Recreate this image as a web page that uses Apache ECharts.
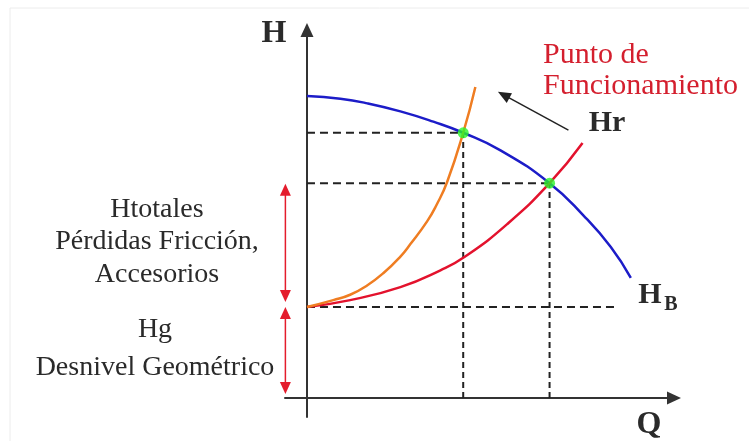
<!DOCTYPE html>
<html>
<head>
<meta charset="utf-8">
<script src="https://cdn.jsdelivr.net/npm/echarts@6/dist/echarts.min.js"></script>
<style>
  html, body { margin: 0; padding: 0; background: #fff; }
  #main { width: 749px; height: 441px; }
</style>
</head>
<body>
<div id="main"></div>
<script>
// curva de la bomba H_B (Q, H)
var pumpCurve = [[0, 7.9], [0.85, 7.83], [1.54, 7.71], [2.38, 7.5], [3.22, 7.23], [3.98, 6.94], [4.93, 6.48], [6.18, 5.62], [7.04, 4.78], [7.74, 3.95], [8.25, 3.14]];
// curva del sistema Hr (roja)
var systemCurve = [[0, 2.38], [1.1, 2.56], [2.38, 2.9], [3.4, 3.34], [4.03, 3.7], [5.1, 4.55], [6.18, 5.62], [7.02, 6.67]];
// curva del sistema con más pérdidas (naranja)
var systemCurve2 = [[0, 2.38], [0.67, 2.56], [1.1, 2.7], [1.54, 2.95], [1.95, 3.27], [2.38, 3.7], [2.63, 4.02], [3.06, 4.62], [3.3, 5.05], [3.57, 5.65], [3.98, 6.94], [4.29, 8.14]];
// puntos de funcionamiento
var operatingPoints = [[3.98, 6.94], [6.18, 5.62]];
// altura geométrica Hg
var staticHead = 2.38;
var staticLineEnd = 7.86;
// flechas rojas (x, extremos)
var arrowX = -0.55;
var frictionArrow = [5.45, 2.67];
var geometricArrow = [2.22, 0.26];
// flecha negra que señala el punto
var pointerArrow = [[6.66, 7.01], [5.01, 7.93]];

var myChart = echarts.init(document.getElementById('main'));

var serif = '"Liberation Serif", "DejaVu Serif", serif';
var textColor = '#2a2a2a';

// líneas discontinuas hasta los ejes
var dashSeries = [];
operatingPoints.forEach(function (p) {
  dashSeries.push({
    type: 'line', symbol: 'none', silent: true, z: 1,
    data: [[0, p[1]], [p[0], p[1]]],
    lineStyle: { color: '#222', width: 2, type: [8, 5] }
  });
  dashSeries.push({
    type: 'line', symbol: 'none', silent: true, z: 1,
    data: [[p[0], 0], [p[0], p[1]]],
    lineStyle: { color: '#222', width: 2, type: [6, 4] }
  });
});
dashSeries.push({
  type: 'line', symbol: 'none', silent: true, z: 1,
  data: [[0, staticHead], [staticLineEnd, staticHead]],
  lineStyle: { color: '#222', width: 2, type: [8, 5] },
  markLine: {
    silent: true,
    symbol: ['none', 'triangle'],
    symbolSize: [11, 13],
    label: { show: false },
    lineStyle: { color: '#222', width: 1.5, type: 'solid' },
    data: [[{ coord: pointerArrow[0] }, { coord: pointerArrow[1] }]]
  }
});

function redArrow(ends) {
  return {
    type: 'line', clip: false, silent: true, z: 3,
    symbol: 'triangle', symbolSize: [11, 12],
    data: [
      { value: [arrowX, ends[0]], symbolRotate: 0 },
      { value: [arrowX, ends[1]], symbolRotate: 180 }
    ],
    itemStyle: { color: '#e41c2c' },
    lineStyle: { color: '#e41c2c', width: 1.5 }
  };
}

function axisCommon() {
  return {
    type: 'value',
    axisLine: {
      show: true, onZero: true,
      symbol: ['none', 'triangle'], symbolSize: [13, 14],
      lineStyle: { color: '#333', width: 2 }
    },
    axisTick: { show: false },
    axisLabel: { show: false },
    splitLine: { show: false }
  };
}

var xAxis = axisCommon();
xAxis.min = -0.56;
xAxis.max = 9.35;
var yAxis = axisCommon();
yAxis.min = -0.5;
yAxis.max = 9.63;

function label(text, x, y, size, opts) {
  opts = opts || {};
  return {
    type: 'text', x: x, y: y, z: 10, silent: true,
    style: {
      text: text,
      font: (opts.bold ? 'bold ' : '') + size + 'px ' + serif,
      fill: opts.color || textColor,
      align: opts.align || 'center',
      verticalAlign: 'middle'
    }
  };
}

var option = {
  animation: false,
  backgroundColor: '#fff',
  grid: { left: 285, top: 30, width: 389, height: 387 },
  xAxis: xAxis,
  yAxis: yAxis,
  graphic: [
    { type: 'line', silent: true, shape: { x1: 10, y1: 8, x2: 749, y2: 8 }, style: { stroke: '#ececec', lineWidth: 1 } },
    { type: 'line', silent: true, shape: { x1: 10, y1: 8, x2: 10, y2: 441 }, style: { stroke: '#ececec', lineWidth: 1 } },
    label('H', 274, 34, 32, { bold: true }),
    label('Q', 649, 425, 32, { bold: true }),
    label('Hr', 607, 123, 30, { bold: true }),
    label('H', 650, 295, 30, { bold: true }),
    label('B', 671, 305, 20, { bold: true }),
    label('Punto de', 543, 55, 30, { align: 'left', color: '#d41f2e' }),
    label('Funcionamiento', 543, 86, 30, { align: 'left', color: '#d41f2e' }),
    label('Htotales', 157, 210, 28),
    label('Pérdidas Fricción,', 157, 242, 28),
    label('Accesorios', 157, 275, 28),
    label('Hg', 155, 330, 28),
    label('Desnivel Geométrico', 155, 368, 28)
  ],
  series: dashSeries.concat([
    redArrow(frictionArrow),
    redArrow(geometricArrow),
    {
      name: 'H_B', type: 'line', smooth: 0.5, symbol: 'none', z: 2,
      data: pumpCurve,
      lineStyle: { color: '#1c1cc8', width: 2.5 }
    },
    {
      name: 'Hr', type: 'line', smooth: 0.5, symbol: 'none', z: 2,
      data: systemCurve,
      lineStyle: { color: '#e3122d', width: 2.5 }
    },
    {
      name: 'Hr2', type: 'line', smooth: 0.5, symbol: 'none', z: 2,
      data: systemCurve2,
      lineStyle: { color: '#ef7d22', width: 2.5 }
    },
    {
      name: 'Punto', type: 'scatter', symbolSize: 11, z: 5,
      data: operatingPoints,
      itemStyle: { color: '#2bf52b' }
    }
  ])
};

myChart.setOption(option);
</script>
</body>
</html>
